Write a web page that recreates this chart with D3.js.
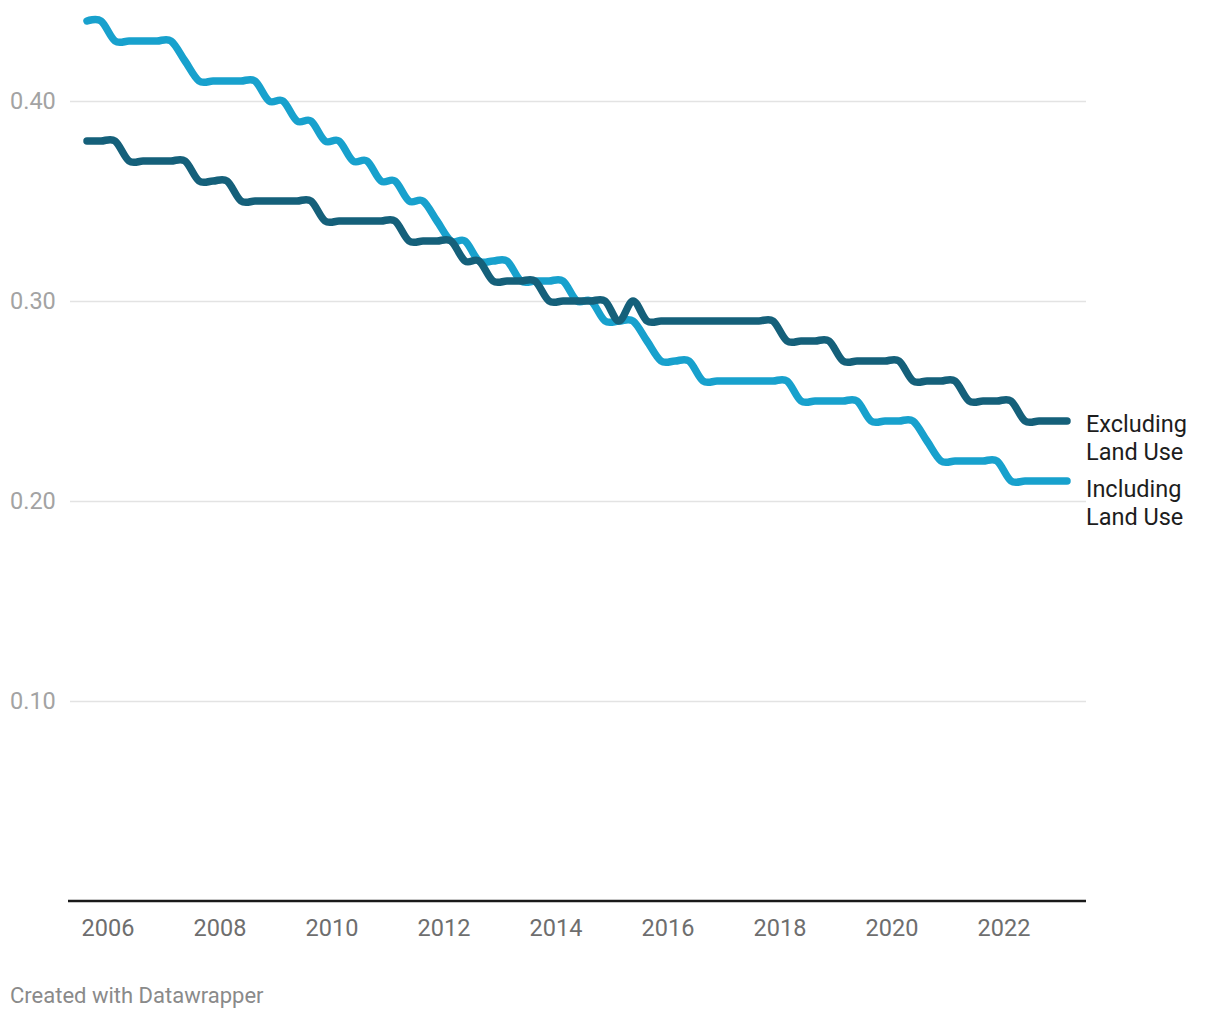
<!DOCTYPE html>
<html>
<head>
<meta charset="utf-8">
<script src="https://cdn.jsdelivr.net/npm/d3@7"></script>
<style>
  html, body { margin: 0; padding: 0; background: #fff; }
  svg { display: block; font-family: Roboto, "Noto Sans", sans-serif; }
</style>
</head>
<body>
<svg id="chart" width="1220" height="1018"></svg>
<script>
// Quarterly periods, 2005 Q3 to 2023 Q1 (mid-quarter, decimal years)
const startPeriod = 2005.625;
const periodCount = 71;
const periods = [];
for (let i = 0; i < periodCount; i++) periods.push(startPeriod + i * 0.25);

const excludingLandUse = [
  0.38, 0.38, 0.38, 0.37, 0.37, 0.37, 0.37, 0.37, 0.36, 0.36,
  0.36, 0.35, 0.35, 0.35, 0.35, 0.35, 0.35, 0.34, 0.34, 0.34,
  0.34, 0.34, 0.34, 0.33, 0.33, 0.33, 0.33, 0.32, 0.32, 0.31,
  0.31, 0.31, 0.31, 0.30, 0.30, 0.30, 0.30, 0.30, 0.29, 0.30,
  0.29, 0.29, 0.29, 0.29, 0.29, 0.29, 0.29, 0.29, 0.29, 0.29,
  0.28, 0.28, 0.28, 0.28, 0.27, 0.27, 0.27, 0.27, 0.27, 0.26,
  0.26, 0.26, 0.26, 0.25, 0.25, 0.25, 0.25, 0.24, 0.24, 0.24,
  0.24
];
const includingLandUse = [
  0.44, 0.44, 0.43, 0.43, 0.43, 0.43, 0.43, 0.42, 0.41, 0.41,
  0.41, 0.41, 0.41, 0.40, 0.40, 0.39, 0.39, 0.38, 0.38, 0.37,
  0.37, 0.36, 0.36, 0.35, 0.35, 0.34, 0.33, 0.33, 0.32, 0.32,
  0.32, 0.31, 0.31, 0.31, 0.31, 0.30, 0.30, 0.29, 0.29, 0.29,
  0.28, 0.27, 0.27, 0.27, 0.26, 0.26, 0.26, 0.26, 0.26, 0.26,
  0.26, 0.25, 0.25, 0.25, 0.25, 0.25, 0.24, 0.24, 0.24, 0.24,
  0.23, 0.22, 0.22, 0.22, 0.22, 0.22, 0.21, 0.21, 0.21, 0.21,
  0.21
];

const seriesNames = [["Excluding", "Land Use"], ["Including", "Land Use"]];
const seriesColors = ["#15607a", "#18a1cd"];
const yTicks = [0.10, 0.20, 0.30, 0.40];
const xTicks = [2006, 2008, 2010, 2012, 2014, 2016, 2018, 2020, 2022];
const footerText = "Created with Datawrapper";

// ---- layout ----
const plotLeft = 68, plotRight = 1086;
const svg = d3.select("#chart");

const x = d3.scaleLinear()
  .domain([periods[0], periods[periods.length - 1]])
  .range([87, 1067]);
const y = d3.scaleLinear().domain([0, 0.40]).range([901, 101]);

// gridlines
svg.append("g").selectAll("line").data(yTicks).join("line")
  .attr("x1", 70).attr("x2", plotRight)
  .attr("y1", d => Math.round(y(d)) + 0.5).attr("y2", d => Math.round(y(d)) + 0.5)
  .attr("stroke", "#e3e3e3").attr("stroke-width", 1.5);

// y labels
svg.append("g").selectAll("text").data(yTicks).join("text")
  .attr("x", 10).attr("y", d => y(d)).attr("dy", "0.35em")
  .attr("fill", "#a3a3a3").attr("font-size", 23.5)
  .text(d => d3.format(".2f")(d));

// x axis baseline
svg.append("line")
  .attr("x1", plotLeft).attr("x2", plotRight)
  .attr("y1", y(0)).attr("y2", y(0))
  .attr("stroke", "#1a1a1a").attr("stroke-width", 2.5);

// x labels
svg.append("g").selectAll("text").data(xTicks).join("text")
  .attr("x", d => x(d)).attr("y", 936)
  .attr("text-anchor", "middle")
  .attr("fill", "#6e6e6e").attr("font-size", 23.5)
  .text(d => d);

// lines
const line = d3.line()
  .x((d, i) => x(periods[i]))
  .y(d => y(d))
  .curve(d3.curveCardinal.tension(0));

const seriesData = [excludingLandUse, includingLandUse];
[1, 0].forEach(si => {
  svg.append("path")
    .datum(seriesData[si])
    .attr("d", line)
    .attr("fill", "none")
    .attr("stroke", seriesColors[si])
    .attr("stroke-width", 7.5)
    .attr("stroke-linecap", "round")
    .attr("stroke-linejoin", "round");
});

// series labels
const labelOffsets = [3, 8];
seriesData.forEach((s, si) => {
  const ly = y(s[s.length - 1]) + labelOffsets[si];
  const t = svg.append("text")
    .attr("x", plotRight).attr("y", ly)
    .attr("fill", "#1d1d1d").attr("font-size", 23.5);
  seriesNames[si].forEach((nm, li) => {
    t.append("tspan").attr("x", plotRight)
      .attr("y", ly + li * 28).attr("dy", "0.35em").text(nm);
  });
});

// footer
svg.append("text")
  .attr("x", 10).attr("y", 1003)
  .attr("fill", "#8a8a8a").attr("font-size", 22)
  .text(footerText);
</script>
</body>
</html>
